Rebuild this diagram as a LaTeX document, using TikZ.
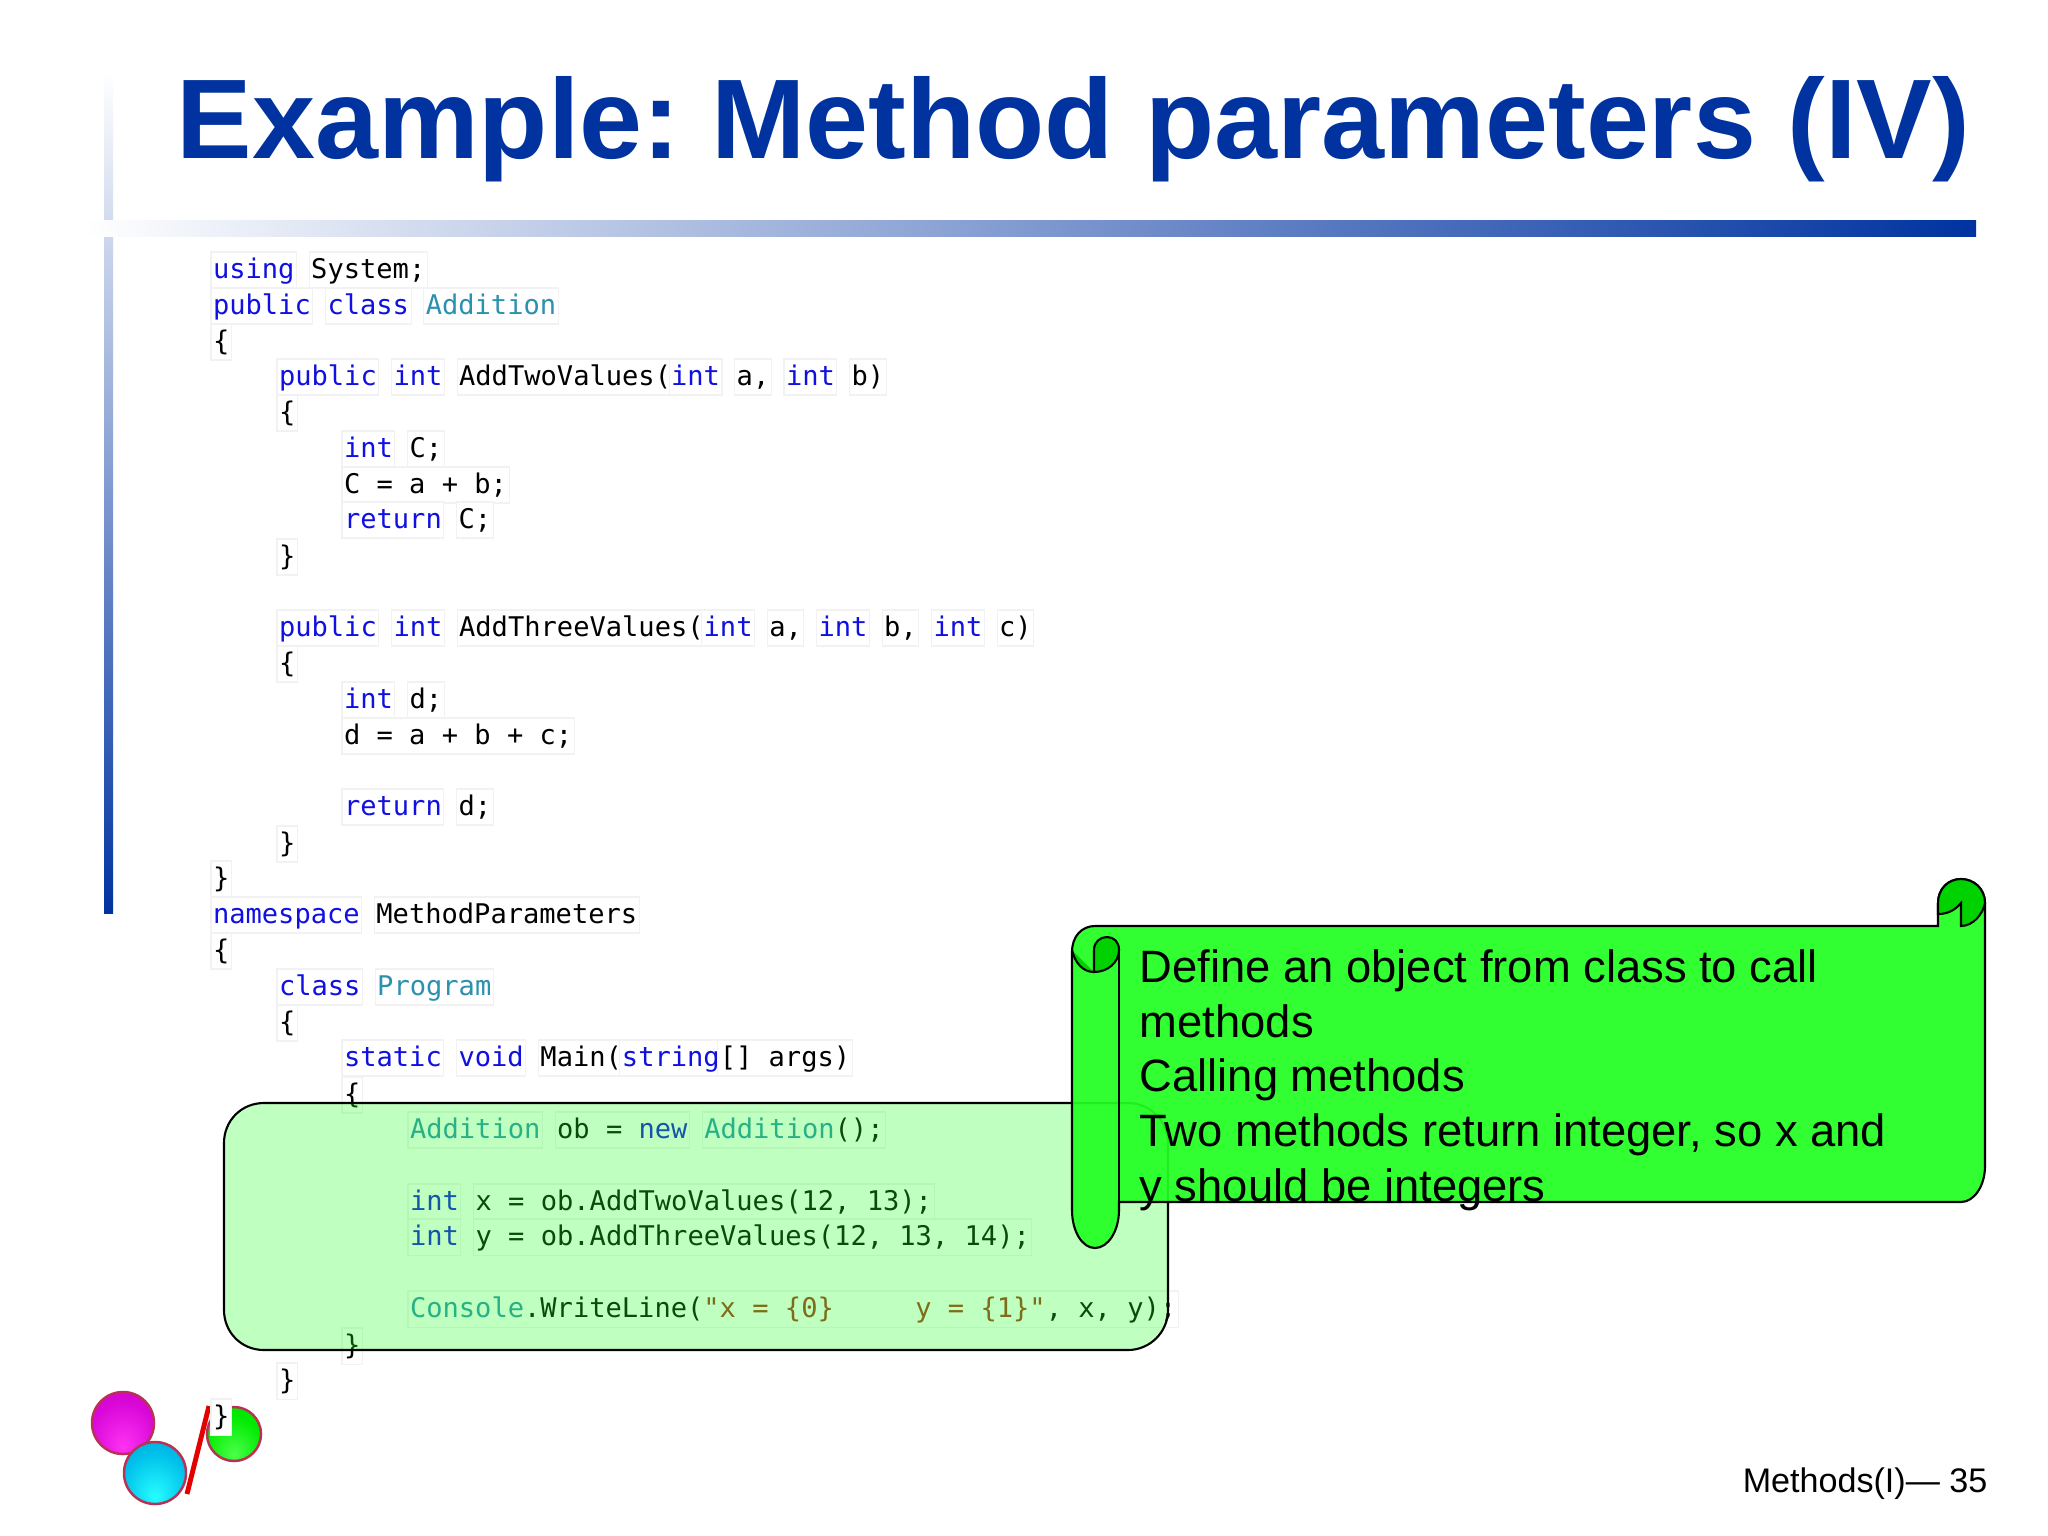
\documentclass[tikz,border=0pt]{standalone}
\usepackage{fontspec}
\usepackage{xcolor}
\usetikzlibrary{positioning}
\setmainfont{Liberation Sans}
\newfontfamily\codefont{DejaVu Sans Mono}
\definecolor{titleblue}{RGB}{0, 51, 160}
\definecolor{kwblue}{RGB}{16, 16, 225}
\definecolor{typeteal}{RGB}{43, 145, 175}
\definecolor{strbrown}{RGB}{163, 50, 21}
\definecolor{scrollgreen}{RGB}{35, 255, 35}
\definecolor{curlgreen}{RGB}{0, 210, 0}
\definecolor{ballrim}{RGB}{185, 50, 85}
\pgfdeclareradialshading{ballmagenta}{\pgfpoint{0bp}{-20bp}}{rgb(0bp)=(1,0.2,0.95); rgb(26bp)=(0.85,0.03,0.85); rgb(50bp)=(0.82,0,0.7)}
\pgfdeclareradialshading{ballcyan}{\pgfpoint{0bp}{-20bp}}{rgb(0bp)=(0.15,1,1); rgb(26bp)=(0,0.75,0.92); rgb(50bp)=(0,0.58,0.78)}
\pgfdeclareradialshading{ballgreen}{\pgfpoint{0bp}{-20bp}}{rgb(0bp)=(0.3,1,0.3); rgb(26bp)=(0,0.92,0); rgb(50bp)=(0,0.85,0)}

\begin{document}
\begin{tikzpicture}[
    x=0.01cm, y=-0.01cm,
    node distance=0.127cm,
    codetok/.style={rectangle, draw=black!5, fill=white, line width=0.3pt, anchor=west, outer sep=0pt, inner xsep=0.02cm, inner ysep=0pt, text height=0.26cm, text depth=0.10cm, font=\codefont\fontsize{7.7}{9}\selectfont},
    kwtok/.style={codetok, text=kwblue},
    typetok/.style={codetok, text=typeteal},
    highlight/.style={draw=black, line width=0.6pt, fill=scrollgreen, fill opacity=0.29, draw opacity=1},
    scrollshape/.style={draw=black, line width=0.6pt, fill=scrollgreen, fill opacity=0.93},
    curlshape/.style={draw=black, line width=0.6pt, fill=curlgreen},
    ball/.style={draw=ballrim, line width=0.7pt}
]
    \frenchspacing
    \useasboundingbox (0,0) rectangle (2048,1536);
    \fill[white] (0,0) rectangle (2048,1536);

    % Title and bars
    \node[anchor=base west, inner sep=0pt, text=titleblue, font=\bfseries\fontsize{32.2}{36}\selectfont] (title) at (176,158) {Example: Method parameters (IV)};
    \shade[top color=white, bottom color=titleblue] (104,72) rectangle (113,913);
    \shade[left color=white, right color=titleblue] (85,220) rectangle (1976,236);

    % Logo
    \shade[shading=ballmagenta, ball] (123,1423) circle (0.31cm);
    \shade[shading=ballcyan, ball] (155,1473) circle (0.31cm);
    \shade[shading=ballgreen, ball] (234,1434) circle (0.27cm);
    \draw[red!90!black, line width=1.4pt] (209,1406) -- (187,1494);

    % Class Addition
    \node[kwtok] (l0a) at (211,270) {using};
    \node[codetok, right=of l0a] (l0b) {System;};
    \node[kwtok] (l1a) at (211,306) {public};
    \node[kwtok, right=of l1a] (l1b) {class};
    \node[typetok, right=of l1b] (l1c) {Addition};
    \node[codetok] (l2a) at (211,342) {\{};

    % First method
    \node[kwtok] (l3a) at (277,377) {public};
    \node[kwtok, right=of l3a] (l3b) {int};
    \node[codetok, right=of l3b] (l3c) {AddTwoValues(};
    \node[kwtok, right=-0.04cm of l3c] (l3d) {int};
    \node[codetok, right=of l3d] (l3e) {a,};
    \node[kwtok, right=of l3e] (l3f) {int};
    \node[codetok, right=of l3f] (l3g) {b)};
    \node[codetok] (l4a) at (277,413) {\{};
    \node[kwtok] (l5a) at (342,449) {int};
    \node[codetok, right=of l5a] (l5b) {C;};
    \node[codetok] (l6a) at (342,485) {C = a + b;};
    \node[kwtok] (l7a) at (342,520) {return};
    \node[codetok, right=of l7a] (l7b) {C;};
    \node[codetok] (l8a) at (277,557) {\}};

    % Second method
    \node[kwtok] (l10a) at (277,628) {public};
    \node[kwtok, right=of l10a] (l10b) {int};
    \node[codetok, right=of l10b] (l10c) {AddThreeValues(};
    \node[kwtok, right=-0.04cm of l10c] (l10d) {int};
    \node[codetok, right=of l10d] (l10e) {a,};
    \node[kwtok, right=of l10e] (l10f) {int};
    \node[codetok, right=of l10f] (l10g) {b,};
    \node[kwtok, right=of l10g] (l10h) {int};
    \node[codetok, right=of l10h] (l10i) {c)};
    \node[codetok] (l11a) at (277,664) {\{};
    \node[kwtok] (l12a) at (342,700) {int};
    \node[codetok, right=of l12a] (l12b) {d;};
    \node[codetok] (l13a) at (342,736) {d = a + b + c;};
    \node[kwtok] (l15a) at (342,807) {return};
    \node[codetok, right=of l15a] (l15b) {d;};
    \node[codetok] (l16a) at (277,844) {\}};
    \node[codetok] (l17a) at (211,879) {\}};

    % Namespace and Main
    \node[kwtok] (l18a) at (211,915) {namespace};
    \node[codetok, right=of l18a] (l18b) {MethodParameters};
    \node[codetok] (l19a) at (211,951) {\{};
    \node[kwtok] (l20a) at (277,987) {class};
    \node[typetok, right=of l20a] (l20b) {Program};
    \node[codetok] (l21a) at (277,1023) {\{};
    \node[kwtok] (l22a) at (342,1058) {static};
    \node[kwtok, right=of l22a] (l22b) {void};
    \node[codetok, right=of l22b] (l22c) {Main(};
    \node[kwtok, right=-0.04cm of l22c] (l22d) {string};
    \node[codetok, right=-0.04cm of l22d] (l22e) {[] args)};
    \node[codetok] (l23a) at (342,1095) {\{};
    \node[typetok] (l24a) at (408,1130) {Addition};
    \node[codetok, right=of l24a] (l24b) {ob = \textcolor{kwblue}{new}};
    \node[codetok, right=of l24b] (l24c) {\textcolor{typeteal}{Addition}();};
    \node[kwtok] (l26a) at (408,1202) {int};
    \node[codetok, right=of l26a] (l26b) {x = ob.AddTwoValues(12, 13);};
    \node[kwtok] (l27a) at (408,1237) {int};
    \node[codetok, right=of l27a] (l27b) {y = ob.AddThreeValues(12, 13, 14);};
    \node[codetok] (l29a) at (408,1309) {\textcolor{typeteal}{Console}.WriteLine(\textcolor{strbrown}{"x = \{0\}~~~~~y = \{1\}"}, x, y);};
    \node[codetok] (l30a) at (342,1346) {\}};
    \node[codetok] (l31a) at (277,1381) {\}};
    \node[codetok] (l32a) at (211,1417) {\}};

    % Highlight over Main
    \draw[highlight] (224,1143) .. controls (224,1121) and (241,1103) .. (264,1103) -- (1128,1103) .. controls (1150,1103) and (1168,1121) .. (1168,1143) -- (1168,1310) .. controls (1168,1332) and (1150,1350) .. (1128,1350) -- (264,1350) .. controls (241,1350) and (224,1332) .. (224,1310) -- cycle;

    % Scroll
    \draw[scrollshape] (1072,952) -- (1072,1210) .. controls (1072,1231) and (1082,1248) .. (1095,1248) .. controls (1108,1248) and (1119,1231) .. (1119,1210) -- (1119,1202) -- (1961,1202) .. controls (1974,1202) and (1985,1186) .. (1985,1166) -- (1985,903) .. controls (1985,889) and (1974,879) .. (1961,879) .. controls (1948,879) and (1938,889) .. (1938,903) -- (1938,926) -- (1095,926) .. controls (1082,926) and (1072,936) .. (1072,952) -- cycle;
    \draw[black, line width=0.6pt] (1119,952) -- (1119,1202);
    \draw[curlshape] (1938,914) -- (1938,903) .. controls (1938,889) and (1948,879) .. (1961,879) .. controls (1974,879) and (1985,889) .. (1985,903) .. controls (1983,914) and (1973,926) .. (1961,926) -- (1961,903) .. controls (1955,910) and (1948,914) .. (1938,914) -- cycle;
    \fill[curlgreen] (1072,950) .. controls (1075,963) and (1083,972) .. (1094,972) -- cycle;
    \draw[curlshape] (1094,972) .. controls (1108,972) and (1119,962) .. (1119,950) .. controls (1119,942) and (1114,937) .. (1107,937) .. controls (1100,937) and (1094,942) .. (1094,950) -- cycle;
    \draw[black, line width=0.6pt] (1072,950) .. controls (1075,963) and (1083,972) .. (1094,972);

    % Scroll text
    \node[anchor=north west, inner sep=0pt, align=left, font=\fontsize{12.9}{15.54}\selectfont] (note) at (1139,949) {Define an object from class to call\\methods\\Calling methods\\Two methods return integer, so x and\\y should be integers};

    % Footer
    \node[anchor=base east, inner sep=0pt, font=\fontsize{9.7}{12}\selectfont] (footer) at (1988,1492) {Methods(I)--- 35};

\end{tikzpicture}
\end{document}
